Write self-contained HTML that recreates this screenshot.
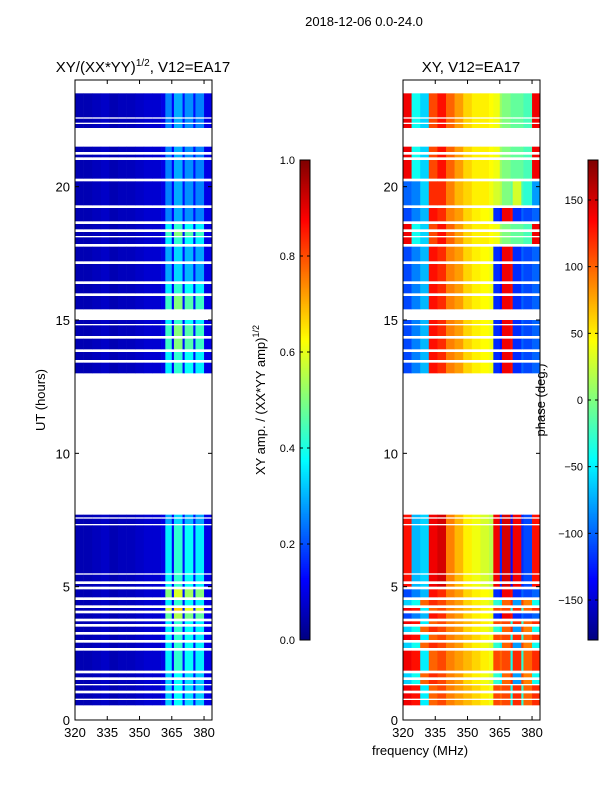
<!DOCTYPE html>
<html><head><meta charset="utf-8"><style>
body{margin:0;background:#fff;}
svg text{font-family:"Liberation Sans","DejaVu Sans",sans-serif;}
</style></head><body>
<svg id="fig" width="600" height="800" xmlns="http://www.w3.org/2000/svg">
<text x="364" y="26" font-size="13" text-anchor="middle">2018-12-06 0.0-24.0</text>
<text x="143" y="72" font-size="15" text-anchor="middle">XY/(XX*YY)<tspan font-size="10" dy="-6">1/2</tspan><tspan dy="6">, V12=EA17</tspan></text>
<text x="471" y="72" font-size="15" text-anchor="middle">XY, V12=EA17</text>
<text x="45" y="400" font-size="13" text-anchor="middle" transform="rotate(-90 45 400)">UT (hours)</text>
<text x="420" y="755" font-size="13" text-anchor="middle">frequency (MHz)</text>
<text x="265" y="400" font-size="13" text-anchor="middle" transform="rotate(-90 265 400)">XY amp. / (XX*YY amp)<tspan font-size="9" dy="-6">1/2</tspan></text>
<text x="545" y="400" font-size="13" text-anchor="middle" transform="rotate(-90 545 400)">phase (deg.)</text>
<g id="layer"></g>
</svg>
<script>
const blockStart = [0.55,0.8,1.1,1.35,1.6,1.85,2.7,3.0,3.3,3.6,3.8,4.1,4.3,4.6,5.0,5.2,5.5,7.35,7.6,13.0,13.5,13.9,14.4,14.85,15.4,16.0,16.45,17.2,17.85,18.15,18.4,18.7,19.3,20.3,21.1,21.3,22.2,22.4,22.6];
const blockEnd   = [0.75,1.0,1.3,1.5,1.75,2.6,2.9,3.2,3.5,3.7,4.0,4.2,4.5,4.9,5.1,5.45,7.3,7.55,7.7,13.4,13.8,14.3,14.8,15.0,15.9,16.35,17.1,17.75,18.1,18.3,18.6,19.2,20.2,21.0,21.2,21.5,22.35,22.55,23.5];
const blockProfile = [3,3,3,4,4,3,4,3,4,3,1,3,4,1,2,2,2,2,2,1,1,1,1,1,1,1,1,1,0,0,0,1,5,0,0,0,0,0,0];
const blockAmpScale = [0.9,0.9,0.9,0.9,0.9,1.0,1.0,1.0,1.0,1.0,1.3,1.6,1.0,1.4,1.0,1.0,1.0,0.8,0.8,1.0,1.0,1.2,1.2,1.0,1.2,1.0,0.8,0.8,1.0,1.2,1.0,0.7,0.7,0.7,0.7,0.7,0.7,0.7,0.7];
const freqEdges = [320,324,328,332,336,340,344,348,352,356,360,362,365,366,370,371,375,376,380,384];
const ampBins = [0.05,0.05,0.06,0.07,0.05,0.06,0.06,0.07,0.08,0.08,0.10,0.36,0.12,0.42,0.14,0.38,0.14,0.36,0.10];
const phaseProfiles = [
 [140,-40,-60,110,130,100,80,60,50,50,45,40,10,0,-10,-10,-10,-20,140],
 [-110,-90,-70,130,120,90,80,60,50,45,40,-120,-130,140,130,-120,-100,-110,-100],
 [130,-70,-60,140,150,90,70,50,40,30,20,140,-120,150,-130,140,-120,-110,130],
 [140,130,-50,100,110,90,80,70,60,50,40,110,100,110,-40,120,-30,100,120],
 [-60,-40,100,120,110,90,80,60,50,40,30,-30,-50,100,120,-80,110,90,-40],
 [-100,-90,-60,120,120,90,70,60,50,50,40,30,20,0,-10,30,-20,-30,-80]
];
const ampTicks=[0,0.2,0.4,0.6,0.8,1.0];
const phaseTicks=[-150,-100,-50,0,50,100,150];
const yTicks=[0,5,10,15,20];
const xTicks=[320,335,350,365,380];

const NS="http://www.w3.org/2000/svg";
const layer=document.getElementById('layer');
function jet(v){v=Math.max(0,Math.min(1,v));
 const f=x=>Math.round(255*Math.max(0,Math.min(1,x)));
 return `rgb(${f(1.5-Math.abs(4*v-3))},${f(1.5-Math.abs(4*v-2))},${f(1.5-Math.abs(4*v-1))})`;}
function el(tag,attrs,parent){const e=document.createElementNS(NS,tag);for(const k in attrs)e.setAttribute(k,attrs[k]);(parent||layer).appendChild(e);return e;}
const Y0=720,Y1=80,FMIN=320,FMAX=383.7;
function yS(h){return Y0-(h/24)*(Y0-Y1);}
function panels(){return [{x0:75,x1:212,name:'amp'},{x0:403,x1:540,name:'phase'}];}
panels().forEach(p=>{
 const xS=f=>p.x0+(f-FMIN)/(FMAX-FMIN)*(p.x1-p.x0);
 const g=el('g',{});
 
 
 for(let b=0;b<blockStart.length;b++){
  for(let i=0;i<freqEdges.length-1;i++){
   const xa=xS(freqEdges[i]), xb=Math.min(xS(freqEdges[i+1]),p.x1);
   if(xb<=xa)continue;
   let c;
   if(p.name==='amp') c=jet(Math.min(1,ampBins[i]*(ampBins[i]>0.2?blockAmpScale[b]:1)));
   else c=jet((phaseProfiles[blockProfile[b]][i]+180)/360);
   const r=el('rect',{x:xa,y:yS(blockEnd[b]),width:xb-xa+0.3,height:yS(blockStart[b])-yS(blockEnd[b]),fill:c},g);
   
   
  }
 }
 const fr=el('rect',{x:p.x0,y:Y1,width:p.x1-p.x0,height:Y0-Y1,fill:'none',stroke:'#000','stroke-width':1});
 
 
 yTicks.forEach(t=>{const y=yS(t);
  el('line',{x1:p.x0,x2:p.x0+4,y1:y,y2:y,stroke:'#000'});
  el('line',{x1:p.x1-4,x2:p.x1,y1:y,y2:y,stroke:'#000'});
  const tx=el('text',{x:p.x0-5,y:y+5,'font-size':13,'text-anchor':'end'});tx.textContent=t;
  
  });
 xTicks.forEach(t=>{const x=xS(t);
  el('line',{x1:x,x2:x,y1:Y0,y2:Y0-4,stroke:'#000'});
  el('line',{x1:x,x2:x,y1:Y1,y2:Y1+4,stroke:'#000'});
  const tx=el('text',{x:x,y:Y0+17,'font-size':13,'text-anchor':'middle'});tx.textContent=t;
  
  });
});
function colorbar(x,vmin,vmax,ticks,name,fmt){
 const top=160,bot=640,w=10;
 const g=el('g',{});
 
 
 for(let i=0;i<240;i++){const y=bot-(i+1)*2;
  el('rect',{x:x,y:y,width:w,height:2.3,fill:jet((i+0.5)/240)},g);}
 el('rect',{x:x,y:top,width:w,height:bot-top,fill:'none',stroke:'#000'},g);
 ticks.forEach(t=>{const y=bot-(t-vmin)/(vmax-vmin)*(bot-top);
  el('line',{x1:x,x2:x+3,y1:y,y2:y,stroke:'#000'},g);
  el('line',{x1:x+w-3,x2:x+w,y1:y,y2:y,stroke:'#000'},g);
  const tx=el('text',{x:x-5,y:y+4,'font-size':11,'text-anchor':'end'},g);tx.textContent=fmt(t);
  
  });
}
colorbar(300,0,1,ampTicks,'amp-colorbar',t=>t.toFixed(1));
colorbar(588,-180,180,phaseTicks,'phase-colorbar',t=>t<0?'\u2212'+(-t):''+t);
</script>
</body></html>
